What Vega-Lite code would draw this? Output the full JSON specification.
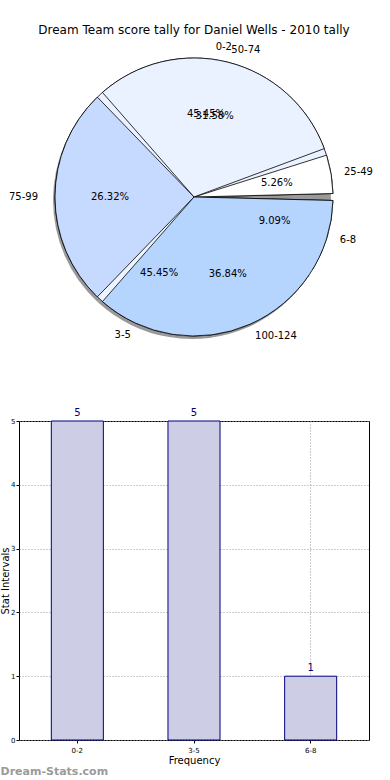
{
  "$schema": "https://vega.github.io/schema/vega-lite/v6.json",
  "padding": {"top": 23, "left": 0, "right": 0, "bottom": 0},
  "bounds": "flush",
  "spacing": 74,
  "config": {"font": "DejaVu Sans", "view": {"stroke": null}},
  "datasets": {
    "pie1": [
      {"label": "0-2", "v": 5, "k": 1, "pct": "45.45%"},
      {"label": "3-5", "v": 5, "k": 2, "pct": "45.45%"},
      {"label": "6-8", "v": 1, "k": 3, "pct": "9.09%"}
    ],
    "pie2": [
      {"label": "25-49", "v": 1, "k": 1, "pct": "5.26%"},
      {"label": "50-74", "v": 6, "k": 2, "pct": "31.58%"},
      {"label": "75-99", "v": 5, "k": 3, "pct": "26.32%"},
      {"label": "100-124", "v": 7, "k": 4, "pct": "36.84%"}
    ],
    "bars": [
      {"label": "0-2", "v": 5},
      {"label": "3-5", "v": 5},
      {"label": "6-8", "v": 1}
    ]
  },
  "vconcat": [
    {
      "width": 350,
      "height": 300,
      "title": {"text": "Dream Team score tally for Daniel Wells - 2010 tally", "fontSize": 12, "fontWeight": "normal", "font": "DejaVu Sans", "offset": 4, "color": "black"},
      "layer": [
        {
          "data": {"name": "pie2"},
          "mark": {"type": "arc", "radius": 139, "fill": "#6e6e6e", "opacity": 0.7, "xOffset": -2, "yOffset": 3},
          "encoding": {
            "theta": {"field": "v", "type": "quantitative", "stack": true, "scale": {"range": [1.5708, -4.7124]}},
            "order": {"field": "k", "type": "quantitative"}
          }
        },
        {
          "data": {"name": "pie1"},
          "mark": {"type": "arc", "radius": 139, "stroke": "black", "strokeWidth": 0.8, "padAngle": 0.05},
          "encoding": {
            "theta": {"field": "v", "type": "quantitative", "stack": true, "scale": {"range": [1.5708, -4.7124]}},
            "order": {"field": "k", "type": "quantitative"},
            "color": {"field": "label", "type": "nominal", "legend": null, "scale": {"domain": ["0-2", "3-5", "6-8"], "range": ["#eaf2ff", "#eef4ff", "#b5d5ff"]}}
          }
        },
        {
          "data": {"name": "pie2"},
          "mark": {"type": "arc", "radius": 139, "stroke": "black", "strokeWidth": 0.8, "padAngle": 0.05},
          "encoding": {
            "theta": {"field": "v", "type": "quantitative", "stack": true, "scale": {"range": [1.5708, -4.7124]}},
            "order": {"field": "k", "type": "quantitative"},
            "color": {"field": "label", "type": "nominal", "legend": null, "scale": {"domain": ["25-49", "50-74", "75-99", "100-124"], "range": ["#ffffff", "#eaf2ff", "#c6d9ff", "#b5d5ff"]}}
          }
        },
        {
          "data": {"name": "pie1"},
          "encoding": {
            "theta": {"field": "v", "type": "quantitative", "stack": true, "scale": {"range": [1.5708, -4.7124]}},
            "order": {"field": "k", "type": "quantitative"}
          },
          "layer": [
            {
              "mark": {"type": "text", "radius": 84, "fontSize": 10, "color": "black", "baseline": "middle", "align": "center"},
              "encoding": {"text": {"field": "pct"}}
            },
            {
              "mark": {"type": "text", "radius": 152, "fontSize": 10, "color": "black", "baseline": "middle", "align": "left"},
              "encoding": {"text": {"condition": {"test": "datum.label != '3-5'", "field": "label"}, "value": ""}}
            },
            {
              "mark": {"type": "text", "radius": 152, "fontSize": 10, "color": "black", "baseline": "middle", "align": "right"},
              "encoding": {"text": {"condition": {"test": "datum.label == '3-5'", "field": "label"}, "value": ""}}
            }
          ]
        },
        {
          "data": {"name": "pie2"},
          "encoding": {
            "theta": {"field": "v", "type": "quantitative", "stack": true, "scale": {"range": [1.5708, -4.7124]}},
            "order": {"field": "k", "type": "quantitative"}
          },
          "layer": [
            {
              "mark": {"type": "text", "radius": 84, "fontSize": 10, "color": "black", "baseline": "middle", "align": "center"},
              "encoding": {"text": {"field": "pct"}}
            },
            {
              "mark": {"type": "text", "radius": 152, "fontSize": 10, "color": "black", "baseline": "middle", "align": "left"},
              "encoding": {"text": {"condition": {"test": "datum.label != '75-99'", "field": "label"}, "value": ""}}
            },
            {
              "mark": {"type": "text", "radius": 156, "fontSize": 10, "color": "black", "baseline": "middle", "align": "right"},
              "encoding": {"text": {"condition": {"test": "datum.label == '75-99'", "field": "label"}, "value": ""}}
            }
          ]
        }
      ],
      "resolve": {"scale": {"theta": "independent", "color": "independent"}}
    },
    {
      "width": 350,
      "height": 319,
      "view": {"stroke": "black", "strokeWidth": 1},
      "data": {"name": "bars"},
      "title": {"text": "Dream-Stats.com", "orient": "bottom", "anchor": "start", "frame": "bounds", "color": "#9a9a9a", "fontSize": 11, "fontWeight": "bold", "font": "DejaVu Sans", "offset": 1},
      "encoding": {
        "x": {
          "field": "label", "type": "nominal", "sort": null,
          "scale": {"paddingInner": 0.554, "paddingOuter": 0.277},
          "axis": {"title": "Frequency", "labelAngle": 0, "labelFontSize": 7, "labelColor": "black", "labelPadding": 3, "titleFontSize": 10, "titleFontWeight": "normal", "titleColor": "black", "titlePadding": 2, "domain": false, "ticks": true, "tickSize": 3, "tickColor": "black", "grid": true, "gridDash": [1, 2], "gridColor": "#999999", "gridWidth": 1}
        },
        "y": {
          "field": "v", "type": "quantitative",
          "scale": {"domain": [0, 5], "nice": false},
          "axis": {"title": "Stat Intervals", "tickCount": 5, "labelFontSize": 7, "labelColor": "black", "labelPadding": 1, "titleFontSize": 10, "titleFontWeight": "normal", "titleColor": "black", "titlePadding": 0, "domain": false, "ticks": true, "tickSize": 3, "tickColor": "black", "grid": true, "gridDash": [1, 2], "gridColor": "#999999", "gridWidth": 1}
        }
      },
      "layer": [
        {"mark": {"type": "bar", "fill": "#cdcde6", "stroke": "#000080", "strokeWidth": 1}},
        {"mark": {"type": "text", "baseline": "bottom", "dy": -3, "color": "#000080", "fontSize": 10}, "encoding": {"text": {"field": "v", "type": "quantitative"}}}
      ]
    }
  ]
}
